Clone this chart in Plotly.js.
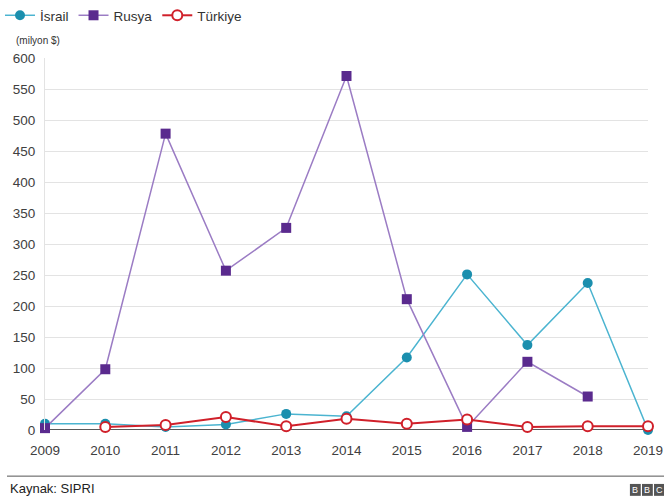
<!DOCTYPE html>
<html><head><meta charset="utf-8">
<script src="https://cdn.plot.ly/plotly-3.0.1.min.js"></script>
<style>html,body{margin:0;padding:0;background:#fff;}#chart{width:664px;height:498px;}</style>
</head><body><div id="chart"></div>
<script>
const years = [2009, 2010, 2011, 2012, 2013, 2014, 2015, 2016, 2017, 2018, 2019];
const israel = [10, 10, 5, 9, 26, 22, 117, 251, 137, 237, 0];
const rusya = [3, 98, 478, 257, 326, 571, 211, 5, 110, 54, null];
const turkiye = [null, 5, 8, 21, 6, 18, 10, 17, 5, 6, 6];
const yTicks = [0, 50, 100, 150, 200, 250, 300, 350, 400, 450, 500, 550, 600];

const traces = [
  {x: years, y: israel, name: 'İsrail', type: 'scatter', mode: 'lines+markers',
   line: {color: '#4bb4d0', width: 1.5}, marker: {color: '#1b8fae', size: 10, symbol: 'circle'}, cliponaxis: false},
  {x: years, y: rusya, name: 'Rusya', type: 'scatter', mode: 'lines+markers',
   line: {color: '#9b7cc4', width: 1.5}, marker: {color: '#5a2a8e', size: 10, symbol: 'square'}, cliponaxis: false},
  {x: years, y: turkiye, name: 'Türkiye', type: 'scatter', mode: 'lines+markers',
   line: {color: '#d0202a', width: 2}, marker: {color: '#ffffff', size: 10, symbol: 'circle', line: {color: '#d0202a', width: 2}}, cliponaxis: false}
];

const layout = {
  width: 664, height: 498,
  margin: {l: 45, r: 16, t: 58, b: 68, autoexpand: false},
  paper_bgcolor: '#fff', plot_bgcolor: '#fff',
  font: {family: 'Liberation Sans, Arial, sans-serif', color: '#404040', size: 13},
  showlegend: true,
  legend: {orientation: 'h', xref: 'container', yref: 'container', x: 0.0, xanchor: 'left', y: 1.0, yanchor: 'top',
           font: {size: 13.5, color: '#333'}, itemwidth: 30,
           traceorder: 'normal', bgcolor: 'rgba(0,0,0,0)'},
  xaxis: {range: [2009, 2019], tickvals: years, ticktext: years.map(String),
          showgrid: false, zeroline: false, showline: false, ticks: '', ticklabelstandoff: 10,
          tickfont: {size: 13.5, color: '#404040'}, fixedrange: true, automargin: false},
  yaxis: {range: [0, 600], tickvals: yTicks, ticktext: yTicks.map(String),
          showgrid: true, gridcolor: '#e3e3e3', gridwidth: 1, zeroline: false,
          showline: true, linecolor: '#e3e3e3', ticks: '', ticklabelstandoff: 6,
          tickfont: {size: 13.5, color: '#404040'}, fixedrange: true, automargin: false},
  shapes: [
    {type: 'line', xref: 'paper', yref: 'y', x0: 0, x1: 1, y0: 0, y1: 0, line: {color: '#222', width: 1.5}, layer: 'below'},
    {type: 'line', xref: 'paper', yref: 'paper', x0: -0.063, x1: 1.03, y0: -0.124, y1: -0.124, line: {color: '#555', width: 1}},
    {type: 'rect', xref: 'paper', yref: 'paper', x0: 0.970, x1: 0.988, y0: -0.177, y1: -0.145, fillcolor: '#555', line: {width: 0}},
    {type: 'rect', xref: 'paper', yref: 'paper', x0: 0.990, x1: 1.008, y0: -0.177, y1: -0.145, fillcolor: '#555', line: {width: 0}},
    {type: 'rect', xref: 'paper', yref: 'paper', x0: 1.010, x1: 1.028, y0: -0.177, y1: -0.145, fillcolor: '#555', line: {width: 0}}
  ],
  annotations: [
    {text: '(milyon $)', xref: 'paper', yref: 'paper', x: -0.052, y: 1.048, xanchor: 'left', yanchor: 'middle', showarrow: false, font: {size: 10, color: '#333'}},
    {text: 'Kaynak: SIPRI', xref: 'paper', yref: 'paper', x: -0.062, y: -0.156, xanchor: 'left', yanchor: 'middle', showarrow: false, font: {size: 13, color: '#222'}},
    {text: 'B', xref: 'paper', yref: 'paper', x: 0.979, y: -0.161, xanchor: 'center', yanchor: 'middle', showarrow: false, font: {size: 9, color: '#fff'}},
    {text: 'B', xref: 'paper', yref: 'paper', x: 0.999, y: -0.161, xanchor: 'center', yanchor: 'middle', showarrow: false, font: {size: 9, color: '#fff'}},
    {text: 'C', xref: 'paper', yref: 'paper', x: 1.019, y: -0.161, xanchor: 'center', yanchor: 'middle', showarrow: false, font: {size: 9, color: '#fff'}}
  ]
};

Plotly.newPlot('chart', traces, layout, {displayModeBar: false, staticPlot: true});
</script>
</body></html>
